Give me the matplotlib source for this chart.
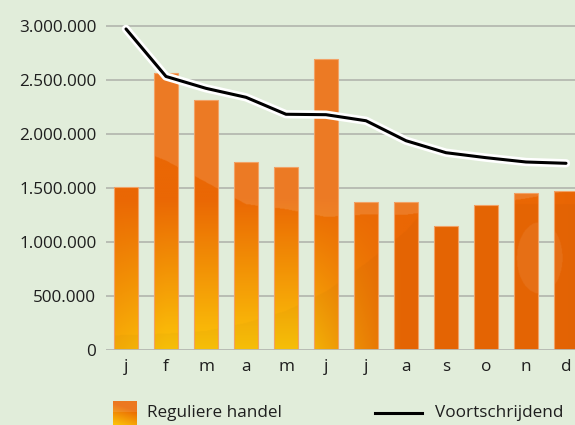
import numpy as np
import matplotlib
matplotlib.use("Agg")
import matplotlib.pyplot as plt
import matplotlib.patheffects as pe
from matplotlib.lines import Line2D
from matplotlib.ticker import FuncFormatter

months = ['j', 'f', 'm', 'a', 'm', 'j', 'j', 'a', 's', 'o', 'n', 'd']
regular = [1510000, 2560000, 2310000, 1740000, 1690000, 2690000,
           1365000, 1368000, 1148000, 1337000, 1451000, 1469000]
moving = [2970000, 2530000, 2420000, 2337000, 2180000, 2176000,
          2120000, 1935000, 1824000, 1778000, 1738000, 1726000]
yticks = [0, 500000, 1000000, 1500000, 2000000, 2500000, 3000000]
legend_labels = ['Reguliere handel', 'Voortschrijdend']

BG = '#E1EDDA'
plt.rcParams['font.family'] = ['Open Sans', 'DejaVu Sans']
TXT = '#1e1e1e'
FS = 12.3

fig = plt.figure(figsize=(5.75, 4.25), dpi=100)
fig.patch.set_facecolor(BG)
YMAX = 3.05e6
ax = fig.add_axes([106/575, 75.3/425, 480/575, (108*3.05)/425])
ax.set_facecolor(BG)

x = np.arange(len(months))
ax.set_xlim(-0.5, 11.5)
ax.set_ylim(0, YMAX)

# gradient image
nx, ny = 720, 500
gx = np.linspace(-0.5, 11.5, nx)
gy = np.linspace(0, YMAX, ny)
GX, GY = np.meshgrid(gx, gy)
tv = np.clip(GY / 1.4e6, 0, 1)
h = np.clip((GX - 4.3) / 2.6, 0, 1)
hl = np.clip((1 - GX) / 1.3, 0, 1) * 0.25
t = 1 - (1 - tv) * (1 - h) * (1 - hl)
yellow = np.array([252, 196, 8]) / 255
orange = np.array([234, 103, 4]) / 255
rgb = yellow[None, None, :] * (1 - t[..., None]) + orange[None, None, :] * t[..., None]
# lower arc: below is slightly more saturated
ax1 = [-0.5, 1, 2, 3, 4, 5, 6, 7, 7.6]
ay1 = [1.3e5, 1.5e5, 1.75e5, 2.5e5, 3.6e5, 5.4e5, 8.0e5, 1.1e6, 1.35e6]
b1 = np.interp(gx, ax1, ay1)
m1 = GY < b1[None, :]
rgb[m1] = rgb[m1] * 0.975
# upper glossy highlight
bx = [-0.5, 0, 1, 2, 3, 4, 5, 6, 7, 8, 9, 10, 11.5]
by = [2.0e6, 1.9e6, 1.75e6, 1.55e6, 1.35e6, 1.3e6, 1.23e6, 1.25e6, 1.25e6, 1.3e6, 1.35e6, 1.4e6, 1.5e6]
bound = np.interp(gx, bx, by)
mask = GY > bound[None, :]
rgb[mask] = rgb[mask] * 0.87 + 0.13
# soft ellipse highlight lower right
e = ((GX - 10.35) / 0.57) ** 2 + ((GY - 0.85e6) / 0.33e6) ** 2 < 1
rgb[e] = rgb[e] * 0.93 + 0.07
# darker right edge
dr = np.clip((GX - 10.6) / 0.9, 0, 1)[..., None] * 0.06
rgb = rgb * (1 - dr) + np.array([0.75, 0.25, 0.1]) * dr
rgb = np.clip(rgb, 0, 1)

ax.yaxis.grid(True, color='#b5b9b0', lw=1.3, zorder=0)
ax.set_axisbelow(True)

bars = ax.bar(x, regular, width=0.6, facecolor='none', edgecolor='#f2a266', lw=0.8, zorder=3)
for b in bars:
    im = ax.imshow(rgb, extent=[-0.5, 11.5, 0, YMAX], origin='lower', aspect='auto',
                   zorder=2, interpolation='bilinear')
    im.set_clip_path(b)
ax.set_xlim(-0.5, 11.5)
ax.set_ylim(0, YMAX)

ax.axhline(0, color='#b8bcb5', lw=2, zorder=4)

ax.plot(x, moving, color='black', lw=2.2, zorder=5, solid_capstyle='round',
        solid_joinstyle='round', clip_on=False,
        path_effects=[pe.Stroke(linewidth=6, foreground='white'), pe.Normal()])

for s in ax.spines.values():
    s.set_visible(False)
ax.set_yticks(yticks)
ax.yaxis.set_major_formatter(FuncFormatter(lambda v, p: f"{int(v):,}".replace(',', '.')))
ax.set_xticks(x)
ax.set_xticklabels(months)
ax.tick_params(axis='both', length=0, labelsize=FS, labelcolor=TXT)
ax.tick_params(axis='y', pad=7)
ax.tick_params(axis='x', pad=7)

# legend
iax = fig.add_axes([113/575, 0, 24/575, 24/425])
gyl = np.linspace(0, 1, 50)[:, None]
gxl = np.linspace(0, 1, 20)[None, :]
tl = np.clip(gyl * 1.1 + gxl * 0.35, 0, 1)
lc = yellow[None, None, :] * (1 - tl[..., None]) + orange[None, None, :] * tl[..., None]
iax.imshow(lc, origin='lower', aspect='auto', extent=[0, 1, 0, 1])
iax.imshow(np.ones((1, 1, 4)) * [1, 1, 1, 0.12], extent=[0, 1, 0.55, 1], aspect='auto')
iax.set_xlim(0, 1); iax.set_ylim(0, 1)
iax.axis('off')
fig.text(147/575, 12/425, legend_labels[0], fontsize=FS, color=TXT, va='center', ha='left')
fig.add_artist(Line2D([375/575, 422/575], [12/425, 12/425], color='black', lw=2.2,
                      transform=fig.transFigure))
fig.text(435/575, 12/425, legend_labels[1], fontsize=FS, color=TXT, va='center', ha='left')

fig.savefig('out.png', dpi=100, facecolor=BG)
